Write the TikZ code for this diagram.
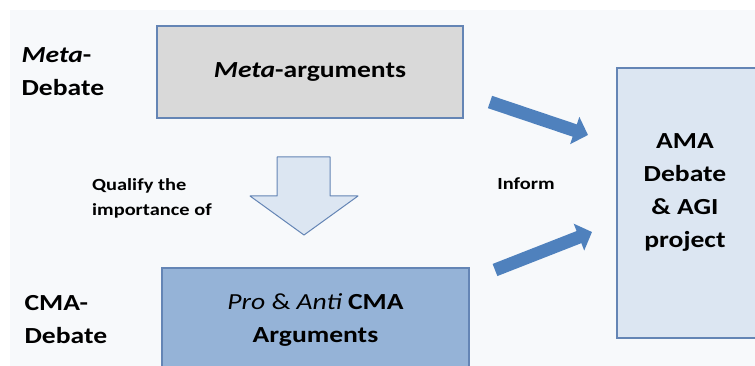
\documentclass[tikz,border=0pt]{standalone}
\usepackage{fontspec}
\setmainfont{Carlito}[FakeStretch=1.2]
\usetikzlibrary{positioning}
\usetikzlibrary{arrows.meta}
\definecolor{bgcol}{HTML}{F7F9FB}
\definecolor{boxline}{HTML}{6485B5}
\definecolor{metafill}{HTML}{D9D9D9}
\definecolor{cmafill}{HTML}{95B3D7}
\definecolor{amafill}{HTML}{DCE6F2}
\definecolor{informcol}{HTML}{4F81BD}
\newcommand{\bigtxt}{\fontsize{23}{33}\selectfont\bfseries}
\newcommand{\smalltxt}{\fontsize{17}{25}\selectfont\bfseries}

\begin{document}
\begin{tikzpicture}[x=1pt, y=-1pt,
  box/.style={draw=boxline, line width=1.2pt, inner sep=0pt},
  sidelbl/.style={align=left, inner sep=0pt, font=\bigtxt},
  inform/.style={informcol, line width=13pt, -{Triangle[length=14pt,width=28pt]}},
  qualarrow/.style={draw=boxline, fill=amafill, line width=1pt, line join=round}]
%\draw [help lines] (0,0) grid (755,366);

\useasboundingbox (0,0) rectangle (755,366);
\clip (0,0) rectangle (755,366);
\fill[bgcol] (10,10) rectangle (755,366);

\node[box, fill=metafill, minimum width=306pt, minimum height=92pt, font=\bigtxt]   (meta) at (310,72) {\textit{Meta}-arguments};
\node[box, fill=cmafill, minimum width=307pt, minimum height=104pt, font=\bigtxt, align=center]  (cma) at (315.5,320) {{\mdseries\itshape Pro} {\mdseries\&} {\mdseries\itshape Anti} CMA\\Arguments};
\node[box, fill=amafill, minimum width=140pt, minimum height=270pt]                 (ama) at (687,203) {};
\node[font=\bigtxt, align=center, inner sep=0pt]                                   (amatxt) at (685,192) {AMA\\Debate\\\& AGI\\project};

\node[sidelbl, left=52pt of meta]  (metalbl) {\textit{Meta}-\\Debate};
\node[sidelbl, left=54pt of cma]   (cmalbl)  {CMA-\\Debate};

\node[font=\smalltxt, align=left, inner sep=0pt, anchor=west] (qualify) at (92,198) {Qualify the\\importance of};
\node[font=\smalltxt, inner sep=0pt]                           (informlbl) at (526,184) {Inform};

% Edges
\draw[qualarrow] (277,157) -- (330,157) -- (330,196) -- (358,196) -- (304,235) -- (250,196) -- (277,196) -- cycle;

\coordinate (inf1a) at (490,102);
\coordinate (inf1b) at (588,135);
\coordinate (inf2a) at (495,270);
\coordinate (inf2b) at (592,232);
\draw[inform] (inf1a) -- (inf1b);
\draw[inform] (inf2a) -- (inf2b);
\end{tikzpicture}
\end{document}
